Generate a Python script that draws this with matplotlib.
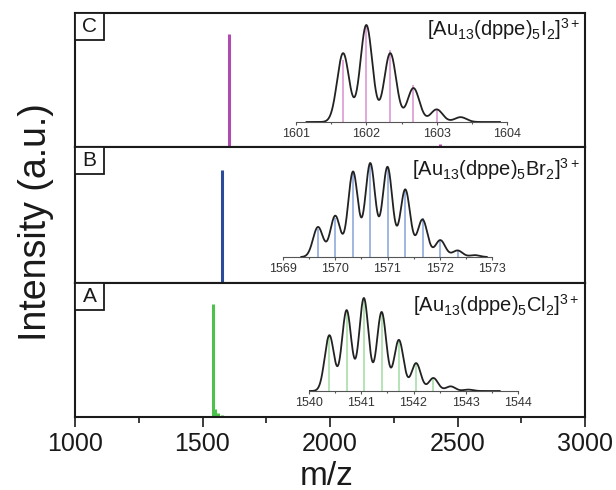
import numpy as np
import matplotlib
matplotlib.use("Agg")
import matplotlib.pyplot as plt
from matplotlib.patches import Rectangle
from matplotlib.ticker import MultipleLocator

plt.rcParams['font.family'] = ['Liberation Sans', 'DejaVu Sans']
plt.rcParams['mathtext.fontset'] = 'custom'
plt.rcParams['mathtext.rm'] = 'Liberation Sans'
plt.rcParams['mathtext.it'] = 'Liberation Sans'

# ---------------- data ----------------
panel_labels = ["C", "B", "A"]
formulas = [r"[Au$_{13}$(dppe)$_5$I$_2$]$^{3+}$",
            r"[Au$_{13}$(dppe)$_5$Br$_2$]$^{3+}$",
            r"[Au$_{13}$(dppe)$_5$Cl$_2$]$^{3+}$"]

# main spectra (m/z, relative intensity)
main_mz_C = [1603, 2432]
main_int_C = [0.84, 0.02]
main_mz_B = [1575]
main_int_B = [0.83]
main_mz_A = [1541, 1550, 1562, 1575]
main_int_A = [0.84, 0.06, 0.03, 0.015]

# inset experimental peaks (m/z, normalized height)
exp_mz_C = [1601.67, 1602.00, 1602.34, 1602.67, 1603.00, 1603.34]
exp_int_C = [0.71, 1.00, 0.71, 0.35, 0.13, 0.05]
exp_mz_B = [1569.67, 1570.00, 1570.34, 1570.67, 1571.00, 1571.34,
            1571.67, 1572.01, 1572.34, 1572.67]
exp_int_B = [0.32, 0.44, 0.91, 1.00, 0.96, 0.72, 0.40, 0.18, 0.07, 0.02]
exp_mz_A = [1540.39, 1540.72, 1541.05, 1541.39, 1541.72, 1542.05,
            1542.38, 1542.71, 1543.05]
exp_int_A = [0.60, 0.87, 1.00, 0.85, 0.55, 0.30, 0.14, 0.05, 0.015]

# inset simulated sticks
stk_mz_C = [1601.67, 1602.00, 1602.34, 1602.67, 1603.00]
stk_int_C = [0.64, 1.00, 0.74, 0.38, 0.12]
stk_mz_B = [1569.67, 1570.00, 1570.34, 1570.67, 1571.00, 1571.34,
            1571.67, 1572.01, 1572.34]
stk_int_B = [0.30, 0.42, 0.90, 1.00, 0.95, 0.72, 0.42, 0.18, 0.06]
stk_mz_A = [1540.39, 1540.72, 1541.05, 1541.39, 1541.72, 1542.05, 1542.38]
stk_int_A = [0.60, 0.87, 1.00, 0.85, 0.55, 0.30, 0.14]

inset_ranges = [(1601, 1604), (1569, 1573), (1540, 1544)]
curve_ranges = [(1601.15, 1603.9), (1569.35, 1572.9), (1540.0, 1543.65)]
peak_width = [0.085, 0.095, 0.09]

main_colors = ["#b04cb0", "#2a4a9c", "#4cc24c"]
stick_colors = ["#d88fd2", "#86a2da", "#a2dca2"]

# ---------------- layout ----------------
W, H = 616, 490
fig = plt.figure(figsize=(W / 100, H / 100), dpi=100)


def px_axes(l, t, r, b):
    return fig.add_axes([l / W, 1 - b / H, (r - l) / W, (b - t) / H])


panels_px = [(75, 13, 585, 147), (75, 147, 585, 283), (75, 283, 585, 417)]
# inset: left px, right px, baseline px, peak px height
insets_px = [(296, 507, 122, 97), (283, 492, 257, 94), (309, 518, 391, 93)]
text_y = [0.83, 0.787, 0.784]

main_data = [(main_mz_C, main_int_C), (main_mz_B, main_int_B), (main_mz_A, main_int_A)]
exp_data = [(exp_mz_C, exp_int_C), (exp_mz_B, exp_int_B), (exp_mz_A, exp_int_A)]
stk_data = [(stk_mz_C, stk_int_C), (stk_mz_B, stk_int_B), (stk_mz_A, stk_int_A)]

for i in range(3):
    ax = px_axes(*panels_px[i])
    ax.set_xlim(1000, 3000)
    ax.set_ylim(0, 1)
    mz, it = main_data[i]
    ax.vlines(mz, 0, it, color=main_colors[i], lw=2.2)
    for s in ax.spines.values():
        s.set_linewidth(1.5)
        s.set_color("#1a1a1a")
    ax.set_yticks([])
    ax.xaxis.set_major_locator(MultipleLocator(500))
    ax.xaxis.set_minor_locator(MultipleLocator(250))
    if i < 2:
        ax.tick_params(axis='x', which='both', length=0, labelbottom=False)
    else:
        ax.tick_params(axis='x', which='major', direction='out', length=7, width=1.2,
                       labelsize=18, pad=4, colors="#1a1a1a")
        ax.tick_params(axis='x', which='minor', direction='out', length=4, width=1.2,
                       colors="#1a1a1a")
    # panel letter box
    bw, bh = 29 / 510, 27 / (panels_px[i][3] - panels_px[i][1])
    ax.add_patch(Rectangle((0, 1 - bh), bw, bh, transform=ax.transAxes,
                           fc="white", ec="#1a1a1a", lw=1.3, zorder=5))
    ax.text(bw / 2, 1 - bh / 2, panel_labels[i], transform=ax.transAxes,
            ha='center', va='center', fontsize=15, color="#1a1a1a", zorder=6)
    ax.text(0.99, text_y[i], formulas[i], transform=ax.transAxes,
            ha='right', va='baseline', fontsize=14.5, color="#1a1a1a")

    # inset
    l, r, base, pk = insets_px[i]
    ymax = 1.12
    iax = px_axes(l, base - pk * ymax, r, base)
    iax.set_xlim(*inset_ranges[i])
    iax.set_ylim(0, ymax)
    iax.patch.set_alpha(0)
    for k in ['top', 'left', 'right']:
        iax.spines[k].set_visible(False)
    iax.spines['bottom'].set_linewidth(0.8)
    iax.spines['bottom'].set_color("#555555")
    iax.set_yticks([])
    iax.xaxis.set_major_locator(MultipleLocator(1))
    iax.xaxis.set_minor_locator(MultipleLocator(0.5))
    iax.tick_params(axis='x', which='major', direction='out', length=2.5, width=0.8,
                    colors="#555555", labelsize=9, labelcolor="#333333", pad=1.5)
    iax.tick_params(axis='x', which='minor', direction='out', length=1.5, width=0.8,
                    colors="#555555")
    smz, sit = stk_data[i]
    iax.vlines(smz, 0, sit, color=stick_colors[i], lw=1.1)
    emz, eit = exp_data[i]
    emz = np.array(emz); eit = np.array(eit)
    sig = peak_width[i]
    G = np.exp(-(emz[:, None] - emz[None, :]) ** 2 / (2 * sig ** 2))
    amp = np.linalg.solve(G, eit)
    x = np.linspace(*curve_ranges[i], 800)
    y = (amp[None, :] * np.exp(-(x[:, None] - emz[None, :]) ** 2 / (2 * sig ** 2))).sum(axis=1)
    iax.plot(x, y, color="#222222", lw=1.3)

fig.text(36 / W, 1 - 222 / H, "Intensity (a.u.)", rotation=90, ha='center', va='center',
         fontsize=27, color="#1a1a1a")
fig.text(327 / W, 1 - 476 / H, "m/z", ha='center', va='center', fontsize=24, color="#1a1a1a")

fig.savefig("out.png", dpi=100)
